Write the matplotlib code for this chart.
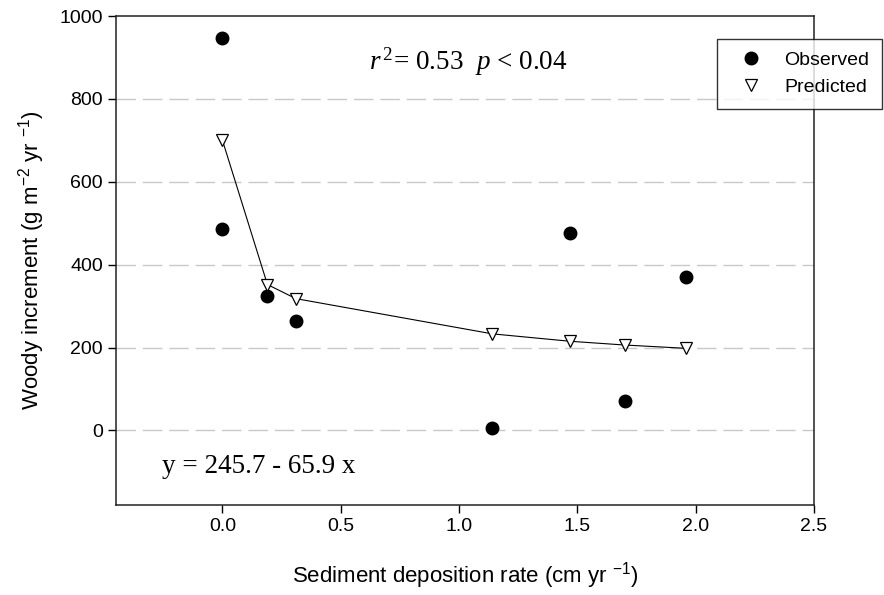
import matplotlib
matplotlib.use("Agg")
import matplotlib.pyplot as plt

plt.rcParams['font.family'] = ['Liberation Sans', 'DejaVu Sans']
plt.rcParams['mathtext.fontset'] = 'custom'
plt.rcParams['mathtext.rm'] = 'Liberation Serif'
plt.rcParams['mathtext.it'] = 'Liberation Serif:italic'

# --- data ---
obs_x = [0.0, 0.0, 0.19, 0.31, 1.14, 1.47, 1.70, 1.96]
obs_y = [948, 486, 325, 265, 5, 477, 71, 371]

pred_x = [0.0, 0.19, 0.31, 1.14, 1.47, 1.70, 1.96]
pred_y = [700, 352, 318, 233, 215, 206, 198]

x_ticks = [0.0, 0.5, 1.0, 1.5, 2.0, 2.5]
y_ticks = [0, 200, 400, 600, 800, 1000]
grid_levels = [0, 200, 400, 600, 800]

fig = plt.figure(figsize=(8.84, 5.95), dpi=100)
ax = fig.add_axes([0.1312, 0.1513, 0.7896, 0.8218])

for g in grid_levels:
    ax.axhline(g, color='#c8c8c8', linewidth=1.0, dashes=(14, 5), zorder=0)

ax.plot(pred_x, pred_y, color='black', linewidth=0.8, zorder=2)
ax.plot(obs_x, obs_y, linestyle='none', marker='o', markersize=9,
        color='black', label='Observed', zorder=3)
ax.plot(pred_x, pred_y, linestyle='none', marker='v', markersize=9,
        markerfacecolor='white', markeredgecolor='black', markeredgewidth=0.9,
        label='Predicted', zorder=4)

ax.set_xlim(-0.45, 2.5)
ax.set_ylim(-180, 1000)
ax.set_xticks(x_ticks)
ax.set_xticklabels([f'{t:.1f}' for t in x_ticks])
ax.set_yticks(y_ticks)
ax.tick_params(direction='out', length=6, width=1, labelsize=14, colors='black')
for s in ax.spines.values():
    s.set_linewidth(1.1)
    s.set_color('#222222')

ax.set_xlabel(r'Sediment deposition rate (cm yr $\mathregular{^{-1}}$)', fontsize=16, labelpad=18)
ax.set_ylabel(r'Woody increment (g m$\mathregular{^{-2}}$ yr $\mathregular{^{-1}}$)', fontsize=16, labelpad=9)

ax.text(0.62, 890, r'$\mathit{r}^{\,\mathregular{2}}$= 0.53  $\mathit{p}$ < 0.04', fontsize=19.5,
        family='Liberation Serif', ha='left', va='center')
ax.text(-0.255, -88, 'y = 245.7 - 65.9 x', fontsize=19.5, family='Liberation Serif',
        ha='left', va='center')

leg = ax.legend(loc='upper left', bbox_to_anchor=(0.811, 0.935),
                bbox_transform=fig.transFigure, frameon=True, fancybox=False,
                edgecolor='black', fontsize=14, handletextpad=0.6,
                borderpad=0.65, labelspacing=0.5, handlelength=2.2,
                borderaxespad=0)
leg.get_frame().set_linewidth(1.0)

fig.savefig('out.png', dpi=100)
